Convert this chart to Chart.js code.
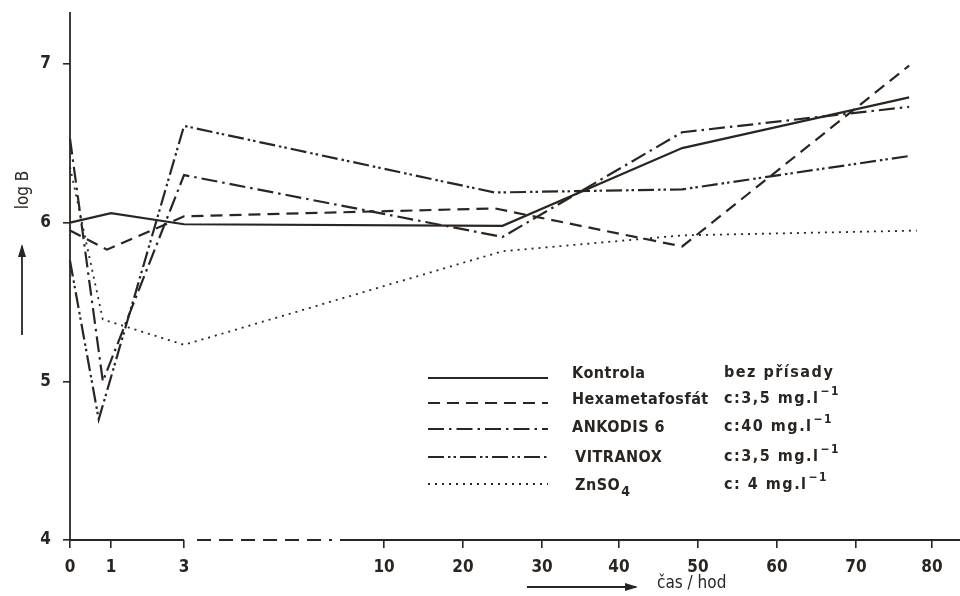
<!DOCTYPE html>
<html>
<head>
<meta charset="utf-8">
<script src="https://cdn.jsdelivr.net/npm/chart.js@4.4.1/dist/chart.umd.min.js"></script>
<style>
  html, body { margin: 0; padding: 0; background: #ffffff; }
  #c { display: block; }
</style>
</head>
<body>
<canvas id="c" width="960" height="596"></canvas>
<script>
// ---------- data ----------
const xTicks = [0, 1, 3, 10, 20, 30, 40, 50, 60, 70, 80];
const yTicks = [4, 5, 6, 7];

const seriesNames = ['Kontrola', 'Hexametafosfát', 'ANKODIS 6', 'VITRANOX', 'ZnSO4'];
const seriesConc  = ['bez přísady', 'c:3,5 mg.l-1', 'c:40 mg.l-1', 'c:3,5 mg.l-1', 'c: 4 mg.l-1'];

const kontrolaHours = [0, 1, 3, 25, 48, 77];
const kontrolaLogB  = [6.00, 6.06, 5.99, 5.98, 6.47, 6.79];

const hexaHours = [0, 0.9, 3, 24, 48, 77];
const hexaLogB  = [5.95, 5.83, 6.04, 6.09, 5.85, 6.99];

const ankodisHours = [0, 0.8, 3, 25, 48, 77];
const ankodisLogB  = [6.53, 5.00, 6.30, 5.91, 6.57, 6.73];

const vitranoxHours = [0, 0.7, 3, 24, 48, 77];
const vitranoxLogB  = [5.76, 4.76, 6.61, 6.19, 6.21, 6.42];

const znso4Hours = [0, 0.8, 3, 25, 48, 78];
const znso4LogB  = [6.35, 5.39, 5.23, 5.82, 5.92, 5.95];

// ---------- styling ----------
const INK = '#2a2521';
const FAM = "'DejaVu Sans Condensed', 'DejaVu Sans', sans-serif";
const TICK_FONT = { family: FAM, size: 17, weight: 'bold' };
const LEG_FONT = "bold 16px " + FAM;
const dashes = [[], [12, 7], [16, 5, 2.5, 5], [16, 4, 2.5, 3, 2.5, 4], [2, 5]];
const widths = [2.2, 2.2, 2.2, 2.2, 1.8];

// ---------- a linear scale with a piecewise (broken) layout ----------
class BrokenLinearScale extends Chart.LinearScale {
  _frac(value) {
    const b = this.options.breaks;
    const v = b.values, f = b.fractions;
    if (value <= v[0]) return f[0] + (value - v[0]) * (f[1] - f[0]) / (v[1] - v[0]);
    for (let i = 1; i < v.length; i++) {
      if (value <= v[i]) {
        return f[i - 1] + (value - v[i - 1]) * (f[i] - f[i - 1]) / (v[i] - v[i - 1]);
      }
    }
    const n = v.length - 1;
    return f[n] + (value - v[n]) * (f[n] - f[n - 1]) / (v[n] - v[n - 1]);
  }
  getPixelForValue(value) {
    return this.getPixelForDecimal(this._frac(value));
  }
  getValueForPixel(pixel) {
    const d = this.getDecimalForPixel(pixel);
    const b = this.options.breaks;
    const v = b.values, f = b.fractions;
    for (let i = 1; i < f.length; i++) {
      if (d <= f[i]) return v[i - 1] + (d - f[i - 1]) * (v[i] - v[i - 1]) / (f[i] - f[i - 1]);
    }
    return v[v.length - 1];
  }
}
BrokenLinearScale.id = 'brokenLinear';
BrokenLinearScale.defaults = Object.assign({}, Chart.LinearScale.defaults);
Chart.register(BrokenLinearScale);

function pts(hours, vals) { return hours.map((h, i) => ({ x: h, y: vals[i] })); }

const seriesData = [
  pts(kontrolaHours, kontrolaLogB),
  pts(hexaHours, hexaLogB),
  pts(ankodisHours, ankodisLogB),
  pts(vitranoxHours, vitranoxLogB),
  pts(znso4Hours, znso4LogB)
];

const datasets = seriesData.map((d, i) => ({
  label: seriesNames[i],
  data: d,
  borderColor: INK,
  backgroundColor: INK,
  borderWidth: widths[i],
  borderDash: dashes[i],
  pointRadius: 0,
  tension: 0,
  fill: false,
  clip: false
}));

// ---------- custom drawing: broken axes, arrows, titles, legend ----------
function drawArrow(ctx, x1, y1, x2, y2) {
  ctx.save();
  ctx.strokeStyle = INK; ctx.fillStyle = INK; ctx.lineWidth = 1.8;
  ctx.beginPath(); ctx.moveTo(x1, y1); ctx.lineTo(x2, y2); ctx.stroke();
  const a = Math.atan2(y2 - y1, x2 - x1);
  const L = 11, W = 4;
  ctx.beginPath();
  ctx.moveTo(x2 + Math.cos(a) * 2, y2 + Math.sin(a) * 2);
  ctx.lineTo(x2 - Math.cos(a) * L - Math.sin(a) * W, y2 - Math.sin(a) * L + Math.cos(a) * W);
  ctx.lineTo(x2 - Math.cos(a) * L + Math.sin(a) * W, y2 - Math.sin(a) * L - Math.cos(a) * W);
  ctx.closePath(); ctx.fill();
  ctx.restore();
}

function drawSup(ctx, text, x, y) {
  // text like "c:3,5 mg.l-1" -> "-1" drawn as superscript
  const m = text.match(/^(.*l)(-1)$/);
  ctx.font = LEG_FONT;
  if (!m) { ctx.fillText(text, x, y); return; }
  ctx.fillText(m[1], x, y);
  const w = ctx.measureText(m[1]).width;
  ctx.font = "bold 12px " + FAM;
  ctx.fillText(m[2].replace('-', '−'), x + w + 1, y - 7);
  ctx.font = LEG_FONT;
}

function drawSub(ctx, text, x, y) {
  const m = text.match(/^(ZnSO)(4)$/);
  ctx.font = LEG_FONT;
  if (!m) { ctx.fillText(text, x, y); return; }
  ctx.fillText(m[1], x, y);
  const w = ctx.measureText(m[1]).width;
  ctx.font = "bold 14px " + FAM;
  ctx.fillText(m[2], x + w + 1, y + 6);
  ctx.font = LEG_FONT;
}

const decorPlugin = {
  id: 'decor',
  beforeDatasetsDraw(chart) {
    const ctx = chart.ctx;
    const xs = chart.scales.x, ys = chart.scales.y;
    const yAxisX = xs.getPixelForValue(0);
    const base = ys.getPixelForValue(4);
    ctx.save();
    ctx.strokeStyle = INK;
    ctx.lineWidth = 1.8;
    // y axis (runs above the top tick)
    ctx.beginPath();
    ctx.moveTo(yAxisX, ys.getPixelForValue(7) - 52);
    ctx.lineTo(yAxisX, base);
    ctx.stroke();
    // x axis, broken between 3 and 10
    const p3 = xs.getPixelForValue(3), p10 = xs.getPixelForValue(10);
    ctx.beginPath();
    ctx.moveTo(yAxisX, base); ctx.lineTo(p3, base);
    ctx.moveTo(p10 - 44, base); ctx.lineTo(chart.width, base);
    ctx.stroke();
    ctx.setLineDash([14, 8]);
    ctx.beginPath();
    ctx.moveTo(p3 + 13, base); ctx.lineTo(p10 - 52, base);
    ctx.stroke();
    ctx.restore();
  },
  afterDraw(chart) {
    const ctx = chart.ctx;
    ctx.save();
    ctx.fillStyle = INK;
    // y title + arrow
    ctx.save();
    ctx.translate(24, 190);
    ctx.rotate(-Math.PI / 2);
    ctx.font = "17px " + FAM;
    ctx.textAlign = 'center';
    ctx.textBaseline = 'middle';
    ctx.fillText('log B', 0, 0);
    ctx.restore();
    drawArrow(ctx, 22, 335, 22, 246);
    // x title + arrow
    ctx.font = "17px " + FAM;
    ctx.textAlign = 'left';
    ctx.textBaseline = 'middle';
    ctx.fillText('čas / hod', 657, 584);
    drawArrow(ctx, 527, 587, 636, 587);

    // legend
    const lx1 = 428, lx2 = 548, nameX = 572, concX = 724;
    const rows = [378, 403, 429, 457, 484];
    const textRows = [374, 400, 428, 458, 486];
    chart.data.datasets.forEach((ds, i) => {
      ctx.save();
      ctx.strokeStyle = INK;
      ctx.lineWidth = ds.borderWidth;
      ctx.setLineDash(ds.borderDash);
      ctx.beginPath();
      ctx.moveTo(lx1, rows[i]); ctx.lineTo(lx2, rows[i]);
      ctx.stroke();
      ctx.restore();
      ctx.textAlign = 'left';
      ctx.textBaseline = 'middle';
      ctx.letterSpacing = '0.5px';
      drawSub(ctx, seriesNames[i], nameX + (i >= 3 ? 3 : 0), textRows[i]);
      ctx.letterSpacing = '1.5px';
      drawSup(ctx, seriesConc[i], concX, textRows[i] - 1);
      ctx.letterSpacing = '0px';
    });
    ctx.restore();
  }
};

new Chart(document.getElementById('c'), {
  type: 'line',
  data: { datasets },
  plugins: [decorPlugin],
  options: {
    responsive: false,
    devicePixelRatio: 1,
    animation: false,
    events: [],
    layout: { padding: { top: 64, right: 28, left: 0, bottom: 0 } },
    plugins: { legend: { display: false }, tooltip: { enabled: false } },
    scales: {
      x: {
        type: 'brokenLinear',
        min: 0, max: 80,
        breaks: {
          values:    [0, 1, 3, 10, 20, 30, 40, 50, 60, 70, 80],
          fractions: [0, 0.0476, 0.1323, 0.3643, 0.4559, 0.5476, 0.6369, 0.7285, 0.8202, 0.9118, 1]
        },
        afterBuildTicks: s => { s.ticks = xTicks.map(v => ({ value: v })); },
        afterFit: s => { s.height = 56; },
        ticks: {
          autoSkip: false, maxRotation: 0, padding: 9,
          color: INK, font: TICK_FONT,
          callback: v => String(v)
        },
        grid: { display: true, drawOnChartArea: false, drawTicks: true, tickLength: 8, color: INK, lineWidth: 1.6 },
        border: { display: false }
      },
      y: {
        type: 'linear',
        min: 4, max: 7,
        afterBuildTicks: s => { s.ticks = yTicks.map(v => ({ value: v })); },
        afterFit: s => { s.width = 70; },
        ticks: { padding: 12, color: INK, font: TICK_FONT, callback: v => String(v) },
        grid: { display: true, drawOnChartArea: false, drawTicks: true, tickLength: 7, color: INK, lineWidth: 1.6 },
        border: { display: false }
      }
    }
  }
});
</script>
</body>
</html>
